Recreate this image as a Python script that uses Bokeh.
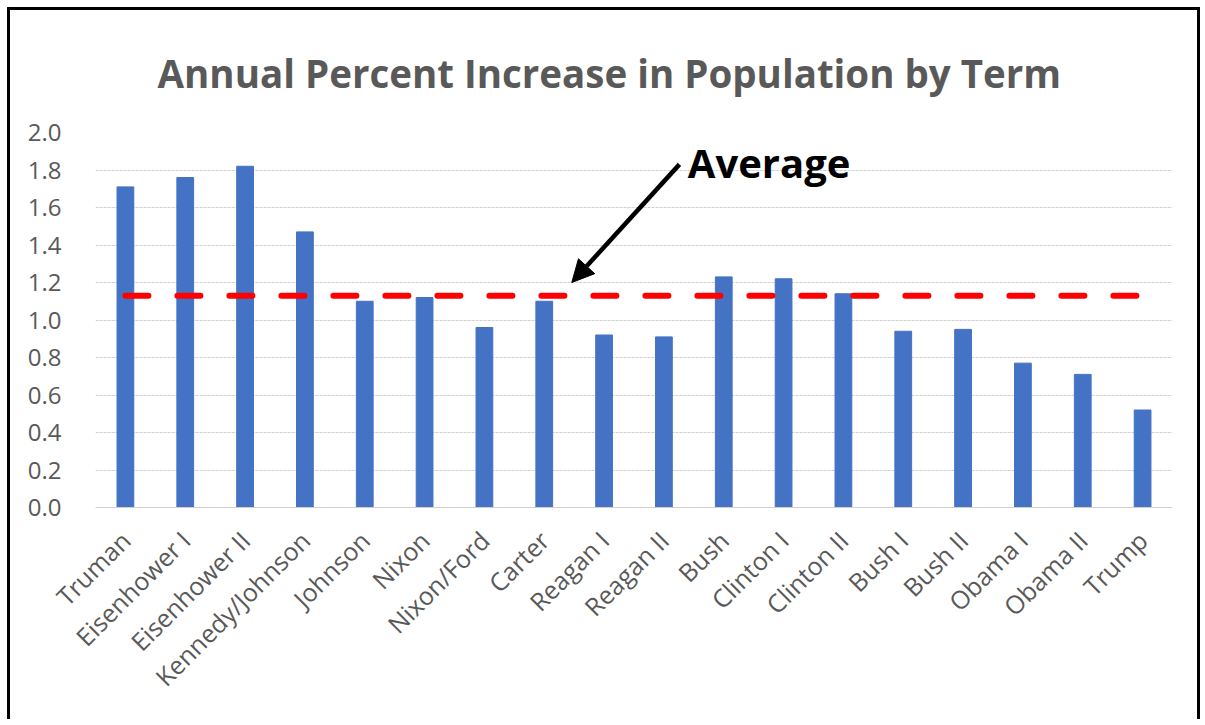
from math import pi
from bokeh.plotting import figure
from bokeh.models import Range1d, FixedTicker, PrintfTickFormatter, Label, Arrow, NormalHead, Title
from bokeh.embed import file_html
from bokeh.resources import INLINE

terms = ["Truman", "Eisenhower I", "Eisenhower II", "Kennedy/Johnson", "Johnson", "Nixon",
         "Nixon/Ford", "Carter", "Reagan I", "Reagan II", "Bush", "Clinton I", "Clinton II",
         "Bush I", "Bush II", "Obama I", "Obama II", "Trump"]
increase = [1.71, 1.76, 1.82, 1.47, 1.10, 1.12, 0.96, 1.10, 0.92, 0.91, 1.23, 1.22, 1.14,
            0.94, 0.95, 0.77, 0.71, 0.52]
average = 1.13
y_ticks = [0.0, 0.2, 0.4, 0.6, 0.8, 1.0, 1.2, 1.4, 1.6, 1.8, 2.0]

FONT = "Open Sans"
GRAY = "#595959"

p = figure(x_range=terms, y_range=Range1d(0, 2.0), width=1193, height=712,
           output_backend="svg", toolbar_location=None,
           min_border_left=85, min_border_right=31, min_border_top=122, min_border_bottom=215)
p.styles = {"border-top": "3px solid black", "border-left": "3px solid black",
            "border-right": "3px solid black", "margin-left": "7px", "margin-top": "7px"}
p.outline_line_color = None
p.background_fill_color = "white"
p.border_fill_color = "white"

p.vbar(x=terms, top=increase, width=0.28, color="#4472C4")
p.line(x=terms, y=[average] * len(terms), line_color="#FF0000", line_width=6,
       line_dash="23 29", line_cap="round")

p.xgrid.grid_line_color = None
p.ygrid.grid_line_color = "#D0D0D0"
p.ygrid.grid_line_dash = "3 1"
p.yaxis.ticker = FixedTicker(ticks=y_ticks)
p.yaxis.formatter = PrintfTickFormatter(format="%.1f")
p.yaxis.axis_line_color = None
p.yaxis.major_tick_line_color = None
p.yaxis.minor_tick_line_color = None
p.yaxis.major_label_standoff = 28
p.yaxis.major_label_text_font = FONT
p.yaxis.major_label_text_font_size = "24px"
p.yaxis.major_label_text_color = GRAY

p.xaxis.axis_line_color = "#D0D0D0"
p.xaxis.major_tick_line_color = None
p.xaxis.minor_tick_line_color = None
p.xaxis.major_label_orientation = pi / 4
p.xaxis.major_label_standoff = 22
p.xaxis.major_label_text_font = FONT
p.xaxis.major_label_text_font_size = "25px"
p.xaxis.major_label_text_color = GRAY

title = Title(text="Annual Percent Increase in Population by Term", align="left",
              offset=62, standoff=67, vertical_align="bottom",
              text_font=FONT, text_font_style="bold", text_font_size="38.5px",
              text_color=GRAY)
p.add_layout(title, "above")

avg_label = Label(x=9.9, y=1.84, text="Average", text_font=FONT, text_font_style="bold",
                  text_font_size="40px", text_color="black", text_align="left",
                  text_baseline="alphabetic")
p.add_layout(avg_label)

p.add_layout(Arrow(end=NormalHead(size=22, fill_color="black", line_color="black"),
                   x_start=9.76, y_start=1.83, x_end=7.96, y_end=1.20,
                   line_width=4.5, line_color="black"))

open("out.html", "w").write(file_html(p, INLINE))
